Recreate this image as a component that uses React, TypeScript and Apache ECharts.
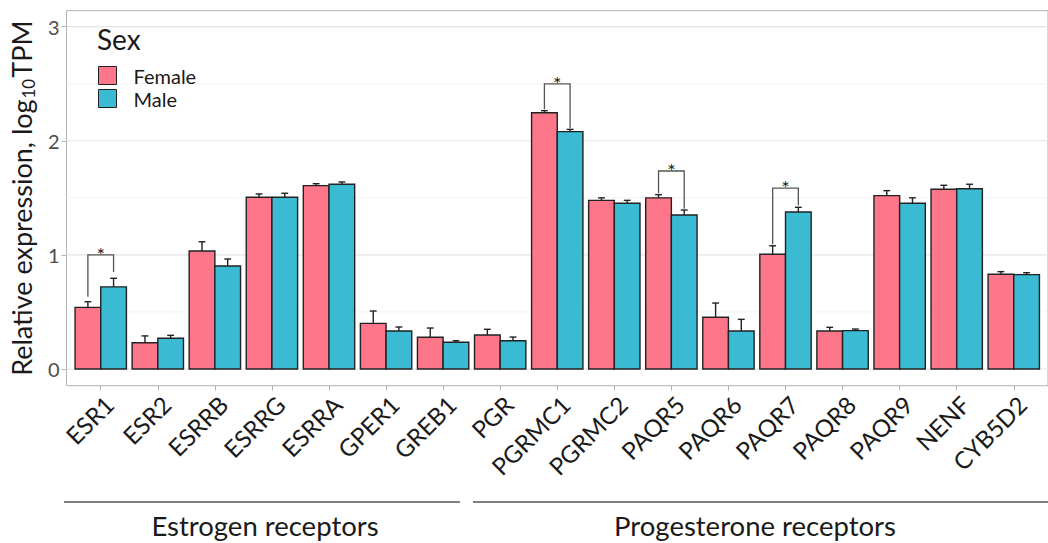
import React, { useEffect, useRef } from "react";
import * as echarts from "echarts";

const genes = ["ESR1", "ESR2", "ESRRB", "ESRRG", "ESRRA", "GPER1", "GREB1", "PGR", "PGRMC1", "PGRMC2", "PAQR5", "PAQR6", "PAQR7", "PAQR8", "PAQR9", "NENF", "CYB5D2"];
const female = [0.54, 0.23, 1.034, 1.505, 1.607, 0.40, 0.278, 0.298, 2.246, 1.478, 1.50, 0.453, 1.005, 0.333, 1.519, 1.575, 0.83];
const femaleErr = [0.59, 0.29, 1.115, 1.534, 1.624, 0.508, 0.359, 0.348, 2.264, 1.50, 1.528, 0.578, 1.08, 0.365, 1.563, 1.61, 0.853];
const male = [0.72, 0.27, 0.903, 1.505, 1.619, 0.333, 0.234, 0.248, 2.08, 1.452, 1.35, 0.333, 1.376, 0.336, 1.452, 1.58, 0.827];
const maleErr = [0.795, 0.295, 0.964, 1.54, 1.639, 0.368, 0.248, 0.28, 2.10, 1.478, 1.393, 0.435, 1.417, 0.35, 1.50, 1.619, 0.844];

const sigIndex = [0, 8, 10, 12];
const sigTop = [1.0, 2.498, 1.735, 1.585];
const sigLeftBottom = [0.634, 2.276, 1.54, 1.093];
const sigRightBottom = [0.85, 2.11, 1.405, 1.435];

const yTicks = [0, 1, 2, 3];
const gridValues = [0, 0.5, 1, 1.5, 2, 2.5, 3];

const FEMALE = "#FD7689";
const MALE = "#3BBAD4";
const FONT = "Lato";

export default function App() {
  const ref = useRef<HTMLDivElement>(null);
  useEffect(() => {
    if (!ref.current) return;
    const chart = echarts.init(ref.current, null, { renderer: "svg" });
    const idx = genes.map((_, i) => i);

    const barRender = (isFemale: boolean, color: string) => (params: any, api: any) => {
      const i = api.value(0);
      const v = api.value(1);
      const e = api.value(2);
      const x0 = isFemale ? i - 0.45 : i;
      const p0 = api.coord([x0, v]);
      const p1 = api.coord([x0 + 0.45, 0]);
      const c = api.coord([x0 + 0.225, e]);
      const cl = api.coord([x0 + 0.225 - 0.06, e]);
      const cr = api.coord([x0 + 0.225 + 0.06, e]);
      return {
        type: "group",
        children: [
          {
            type: "rect",
            shape: { x: p0[0], y: p0[1], width: p1[0] - p0[0], height: p1[1] - p0[1] },
            style: { fill: color, stroke: "#222", lineWidth: 1.4 },
          },
          {
            type: "line",
            shape: { x1: c[0], y1: p0[1], x2: c[0], y2: c[1] },
            style: { stroke: "#222", lineWidth: 1.4 },
          },
          {
            type: "line",
            shape: { x1: cl[0], y1: c[1], x2: cr[0], y2: c[1] },
            style: { stroke: "#222", lineWidth: 1.4 },
          },
        ],
      };
    };

    const option: any = {
      animation: false,
      textStyle: { fontFamily: FONT },
      grid: {
        left: 64,
        top: 10.7,
        width: 992,
        height: 375,
        show: true,
        borderColor: "#b3b3b3",
        borderWidth: 1,
        backgroundColor: "transparent",
      },
      legend: {
        orient: "vertical",
        left: 98,
        top: 64,
        padding: 0,
        icon: "rect",
        itemWidth: 18,
        itemHeight: 18,
        itemGap: 0,
        textStyle: { fontSize: 20, lineHeight: 23, color: "#1a1a1a", fontFamily: FONT, padding: [0, 0, 0, 12] },
        data: [
          { name: "Female", itemStyle: { color: FEMALE, borderColor: "#222", borderWidth: 1 } },
          { name: "Male", itemStyle: { color: MALE, borderColor: "#222", borderWidth: 1 } },
        ],
      },
      xAxis: {
        type: "value",
        min: -0.6,
        max: 16.6,
        splitLine: { show: false },
        axisLine: { show: false, onZero: false },
        axisTick: { show: true, customValues: idx, length: 5, lineStyle: { color: "#b3b3b3" } },
        axisLabel: {
          customValues: idx,
          formatter: (v: number) => genes[Math.round(v)],
          rotate: 45,
          align: "right",
          verticalAlign: "top",
          fontSize: 24,
          color: "#1a1a1a",
          margin: 6,
          fontFamily: FONT,
        },
      },
      yAxis: {
        type: "value",
        min: -0.1464,
        max: 3.14,
        splitLine: { show: false },
        axisLine: { show: false, onZero: false },
        axisTick: { show: true, customValues: yTicks, length: 5, lineStyle: { color: "#b3b3b3" } },
        axisLabel: { customValues: yTicks, fontSize: 20, color: "#4d4d4d", margin: 7, fontFamily: FONT },
        name: "Relative expression, log{s|10}TPM",
        nameLocation: "middle",
        nameRotate: 90,
        nameGap: 26,
        nameTextStyle: {
          fontSize: 27,
          color: "#1a1a1a",
          fontFamily: FONT,
          rich: { s: { fontSize: 17, fontFamily: FONT, color: "#1a1a1a", verticalAlign: "bottom", padding: [0, 1, -2, 1] } },
        },
      },
      graphic: [
        { type: "text", left: 97, top: 25, style: { text: "Sex", fontSize: 28, fill: "#1a1a1a", fontFamily: FONT } },
        { type: "line", shape: { x1: 64, y1: 502, x2: 460, y2: 502 }, style: { stroke: "#555", lineWidth: 1.5 } },
        { type: "line", shape: { x1: 473, y1: 502, x2: 1048, y2: 502 }, style: { stroke: "#555", lineWidth: 1.5 } },
        { type: "text", x: 265, y: 525, style: { text: "Estrogen receptors", fontSize: 27.5, fill: "#1a1a1a", fontFamily: FONT, align: "center", verticalAlign: "middle" } },
        { type: "text", x: 755, y: 525, style: { text: "Progesterone receptors", fontSize: 27.5, fill: "#1a1a1a", fontFamily: FONT, align: "center", verticalAlign: "middle" } },
      ],
      series: [
        {
          name: "gridlines",
          type: "custom",
          silent: true,
          z: 0,
          data: gridValues.map((g) => [g]),
          renderItem: (params: any, api: any) => {
            const g = api.value(0);
            const a = api.coord([-0.6, g]);
            const b = api.coord([16.6, g]);
            const major = Math.abs(g - Math.round(g)) < 1e-6;
            return {
              type: "line",
              shape: { x1: a[0], y1: a[1], x2: b[0], y2: b[1] },
              style: { stroke: major ? "#e4e4e4" : "#f0f0f0", lineWidth: major ? 1.1 : 0.8 },
            };
          },
          encode: { y: 0 },
        },
        {
          name: "Female",
          type: "custom",
          z: 2,
          itemStyle: { color: FEMALE },
          data: genes.map((_, i) => [i, female[i], femaleErr[i]]),
          encode: { x: 0, y: 1 },
          renderItem: barRender(true, FEMALE),
        },
        {
          name: "Male",
          type: "custom",
          z: 2,
          itemStyle: { color: MALE },
          data: genes.map((_, i) => [i, male[i], maleErr[i]]),
          encode: { x: 0, y: 1 },
          renderItem: barRender(false, MALE),
        },
        {
          name: "significance",
          type: "custom",
          z: 3,
          silent: true,
          data: sigIndex.map((s, k) => [s, sigTop[k], sigLeftBottom[k], sigRightBottom[k]]),
          encode: { x: 0, y: 1 },
          renderItem: (params: any, api: any) => {
            const i = api.value(0);
            const top = api.value(1);
            const lb = api.value(2);
            const rb = api.value(3);
            const a = api.coord([i - 0.225, lb]);
            const b = api.coord([i - 0.225, top]);
            const c = api.coord([i + 0.225, top]);
            const d = api.coord([i + 0.225, rb]);
            return {
              type: "group",
              children: [
                {
                  type: "polyline",
                  shape: { points: [a, b, c, d] },
                  style: { stroke: "#555", lineWidth: 1.3, fill: "none" },
                },
                {
                  type: "text",
                  x: (b[0] + c[0]) / 2,
                  y: b[1] - 1,
                  style: { text: "*", fontSize: 20, fill: "#222", fontFamily: FONT, align: "center", verticalAlign: "middle" },
                },
              ],
            };
          },
        },
      ],
    };
    chart.setOption(option);
    return () => chart.dispose();
  }, []);
  return <div ref={ref} style={{ position: "absolute", left: 0, top: 0, width: 1048, height: 543 }} />;
}
